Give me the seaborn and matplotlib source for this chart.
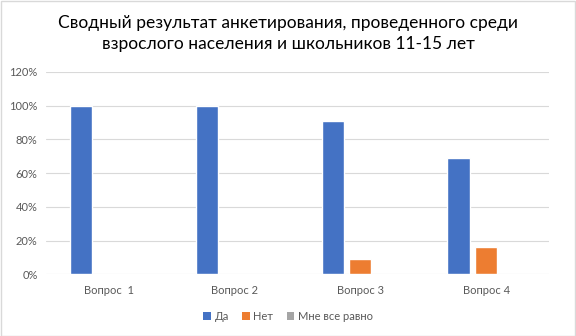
import matplotlib
matplotlib.use("Agg")
import matplotlib.pyplot as plt
import seaborn as sns
import pandas as pd
from matplotlib.patches import Rectangle, Patch
from matplotlib.ticker import FuncFormatter

categories = ["Вопрос  1", "Вопрос 2", "Вопрос 3", "Вопрос 4"]
series_names = ["Да", "Нет", "Мне все равно"]
da = [100, 100, 91, 69]
net = [0, 0, 9, 16]
vse_ravno = [0, 0, 0, 0]
title = "Сводный результат анкетирования, проведенного среди\nвзрослого населения и школьников 11-15 лет"
colors = ["#4472C4", "#ED7D31", "#A5A5A5"]

rows = []
for s, vals in zip(series_names, [da, net, vse_ravno]):
    for c, v in zip(categories, vals):
        rows.append({"cat": c, "series": s, "val": v})
df = pd.DataFrame(rows)

sns.set_theme(style="white")
plt.rcParams["font.family"] = ["Lato", "DejaVu Sans"]

fig = plt.figure(figsize=(5.76, 3.36), dpi=100)
ax = fig.add_axes([46/576, 1 - 274.3/336, (549-46)/576, (274.3-72)/336])

sns.barplot(data=df, x="cat", y="val", hue="series", palette=colors,
            width=0.66, gap=0.2, ax=ax, legend=False, saturation=1)

ax.set_ylim(0, 120)
ax.set_xlim(-0.5, 3.5)
ax.set_yticks(range(0, 121, 20))
ax.yaxis.set_major_formatter(FuncFormatter(lambda v, p: f"{int(v)}%"))
ax.xaxis.grid(False)
ax.yaxis.grid(True, color="#D9D9D9", linewidth=0.8)
ax.set_axisbelow(True)
for sp in ax.spines.values():
    sp.set_visible(False)
ax.set_xlabel("")
ax.set_ylabel("")
ax.tick_params(axis="both", length=0, labelsize=8, labelcolor="#595959")
ax.tick_params(axis="x", pad=8)
ax.tick_params(axis="y", pad=6)

fig.text(0.5, 1 - 33.5/336, title, ha="center", va="center", fontsize=12.5,
         color="#000000", linespacing=1.45)

handles = [Patch(facecolor=c, edgecolor="none") for c in colors]
fig.legend(handles, series_names, loc="center", bbox_to_anchor=(0.5, 1 - 316/336),
           ncol=3, frameon=False, fontsize=8, handlelength=0.7, handleheight=0.7,
           handletextpad=0.3, columnspacing=1.2, labelcolor="#595959")

fig.patches.append(Rectangle((0.001, 0.001), 0.997, 0.996, transform=fig.transFigure,
                             fill=False, edgecolor="#D9D9D9", linewidth=1))

fig.savefig("out.png", dpi=100)
